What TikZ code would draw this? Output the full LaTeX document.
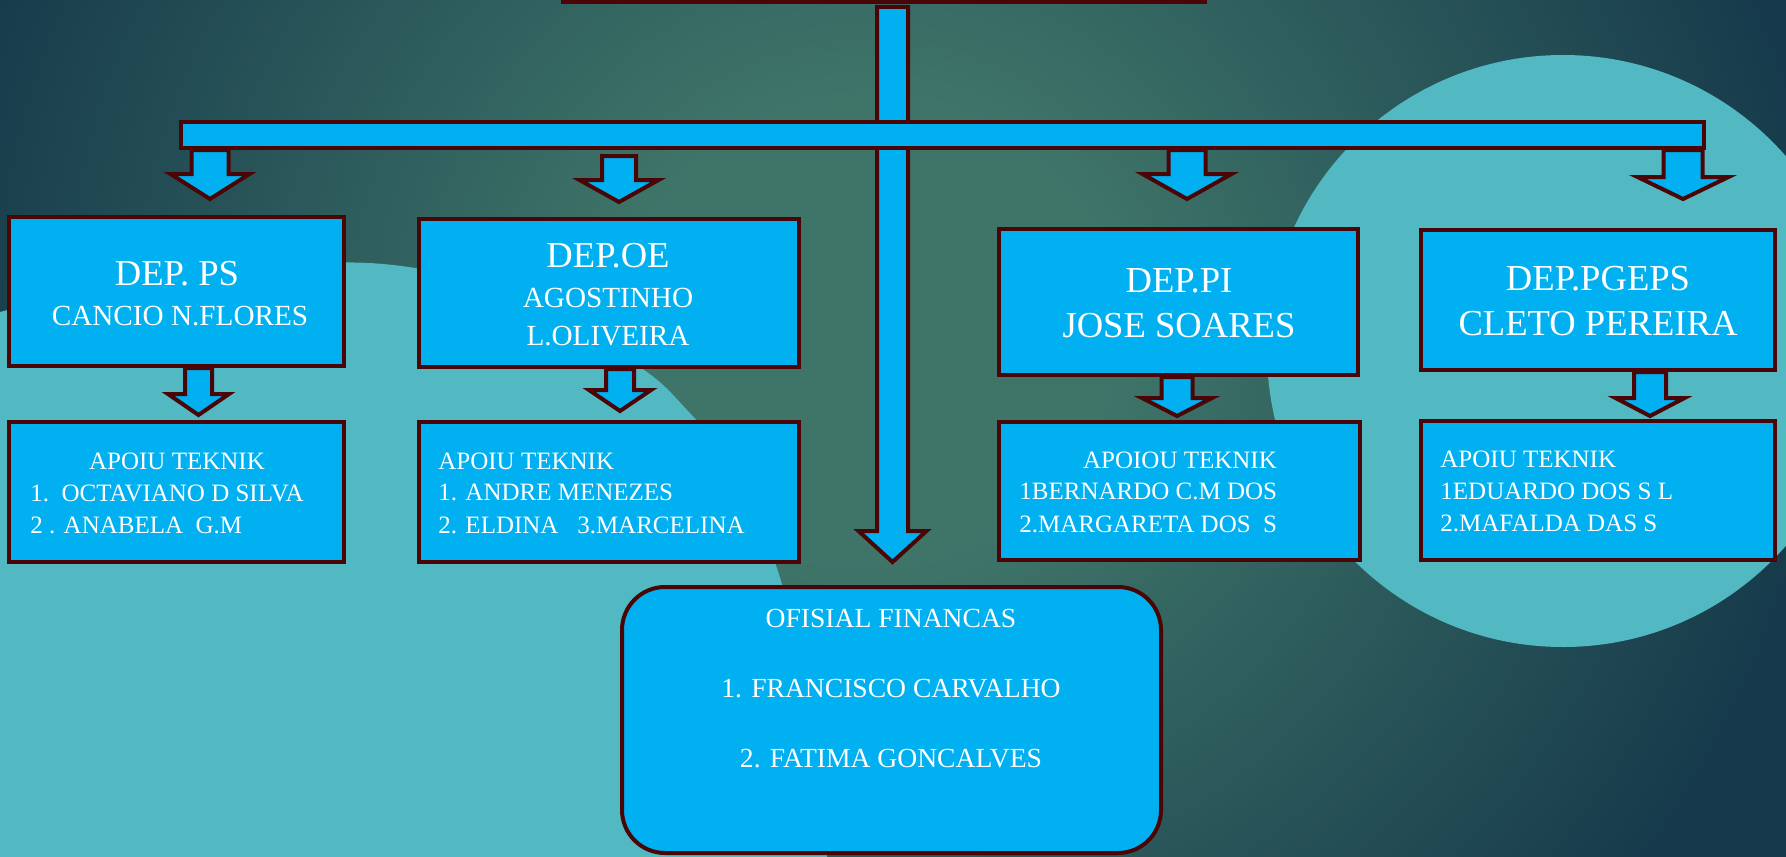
\documentclass[tikz,border=0pt]{standalone}
\usepackage{fontspec}
\setmainfont{Liberation Serif}
\usetikzlibrary{fit,calc}
\definecolor{boxblue}{HTML}{00B0F0}
\definecolor{brd}{HTML}{4A0606}
\definecolor{blob}{HTML}{52B8C2}
\definecolor{bgA}{HTML}{3F7569}
\definecolor{bgD}{HTML}{163A4B}
\pgfdeclareradialshading{bgrad}{\pgfpoint{0bp}{0bp}}{color(0bp)=(bgA); color(4.3bp)=(bgA); color(17.1bp)=(bgD); color(50bp)=(bgD)}
\newcommand\blockarrow[5]{%
  \draw[arrowbox] let \p1=(#1), \p2=(#2) in
    (\x1-#3*0.5pt,\y1) -- (\x1+#3*0.5pt,\y1) -- (\x1+#3*0.5pt,\y2+#5*0.5pt)
    -- (\x1+#4*0.5pt,\y2+#5*0.5pt) -- (\x2,\y2) -- (\x1-#4*0.5pt,\y2+#5*0.5pt)
    -- (\x1-#3*0.5pt,\y2+#5*0.5pt) -- cycle;}
\tikzset{
  box/.style={draw=brd, line width=2pt, fill=boxblue, inner sep=0pt, rectangle},
  arrowbox/.style={draw=brd, line width=2pt, fill=boxblue, line join=miter},
  txt/.style={text=white, inner sep=0pt, anchor=base},
  hd/.style={txt, font=\fontsize{18.3}{20}\selectfont},
  nm/.style={txt, font=\fontsize{14.6}{16}\selectfont},
  ls/.style={txt, font=\fontsize{12.5}{14}\selectfont},
  lsl/.style={ls, anchor=base west},
  of/.style={txt, font=\fontsize{13.8}{15}\selectfont}
}
\begin{document}
\begin{tikzpicture}[x=0.5pt, y=-0.5pt]
\useasboundingbox (0,0) rectangle (1786,856);
\clip (0,0) rectangle (1786,856);
% background
\fill[bgD] (0,0) rectangle (1786,856);
\shade[shading=bgrad] (870,330) ellipse [x radius=1400, y radius=1330];
\fill[blob] plot[smooth, tension=0.6] coordinates {(-20,322) (0,312) (150,277) (310,263) (415,268) (520,296) (637,365) (687,410) (740,475) (770,548) (792,620) (815,720) (830,900)} -- (-20,900) -- cycle;
\fill[blob] (1563,351) circle [radius=296];
% top box (cut off)
\node[box, fit={(563,-40) (1205,2)}] (top) {};
% stem arrow to finance office
\coordinate (stemS) at (892.5,7);
\coordinate (stemT) at (892.5,562);
\blockarrow{stemS}{stemT}{15.5}{34}{31}
% arrows from bar
\coordinate (a1s) at (210,150);  \coordinate (a1t) at (210,199);
\coordinate (a2s) at (619,156);  \coordinate (a2t) at (619,202);
\coordinate (a3s) at (1187,150); \coordinate (a3t) at (1187,199);
\coordinate (a4s) at (1683,150); \coordinate (a4t) at (1683,199);
\blockarrow{a1s}{a1t}{18.5}{39.5}{25}
\blockarrow{a2s}{a2t}{17}{39.5}{22}
\blockarrow{a3s}{a3t}{18.5}{44.5}{25}
\blockarrow{a4s}{a4t}{19.5}{45.5}{22}
% bar
\node[box, fit={(181,122) (1704,148)}] (bar) {};
% department boxes
\node[box, fit={(9,217) (344,366)}] (ps) {};
\node[box, fit={(419,219) (799,367)}] (oe) {};
\node[box, fit={(999,229) (1358,375)}] (pi) {};
\node[box, fit={(1421,230) (1775,370)}] (pgeps) {};
% arrows to support boxes
\coordinate (b1s) at (198.5,368); \coordinate (b1t) at (198.5,415);
\coordinate (b2s) at (620,369);   \coordinate (b2t) at (620,411);
\coordinate (b3s) at (1177,377);  \coordinate (b3t) at (1177,416);
\coordinate (b4s) at (1650,372);  \coordinate (b4t) at (1650,416);
\blockarrow{b1s}{b1t}{13.5}{30.5}{21}
\blockarrow{b2s}{b2t}{14}{31}{21}
\blockarrow{b3s}{b3t}{15.5}{35}{18}
\blockarrow{b4s}{b4t}{16}{34.5}{18}
% support boxes
\node[box, fit={(9,422) (344,562)}] (ap1) {};
\node[box, fit={(419,422) (799,562)}] (ap2) {};
\node[box, fit={(999,422) (1360,560)}] (ap3) {};
\node[box, fit={(1421,421) (1775,560)}] (ap4) {};
% finance office
\node[box, rounded corners=21.5pt, fit={(622,587) (1161,853)}] (fin) {};
% texts
\node[hd] (t1a) at (177,285) {DEP. PS};
\node[nm] (t1b) at (180,325) {CANCIO N.FLORES};
\node[hd] (t2a) at (608,267) {DEP.OE};
\node[nm] (t2b) at (608,307) {AGOSTINHO};
\node[nm] (t2c) at (608,345) {L.OLIVEIRA};
\node[hd] (t3a) at (1179,292) {DEP.PI};
\node[hd] (t3b) at (1179,337) {JOSE SOARES};
\node[hd] (t4a) at (1598,290) {DEP.PGEPS};
\node[hd] (t4b) at (1598,335) {CLETO PEREIRA};
\node[ls] (s1a) at (177,469) {APOIU TEKNIK};
\node[lsl] (s1b) at (30,501) {1.\ \ OCTAVIANO D SILVA};
\node[lsl] (s1c) at (30,533) {2 . ANABELA\ \ G.M};
\node[lsl] (s2a) at (438,469) {APOIU TEKNIK};
\node[lsl] (s2b) at (438,500) {1. ANDRE MENEZES};
\node[lsl] (s2c) at (438,533) {2. ELDINA\ \ \ 3.MARCELINA};
\node[ls] (s3a) at (1180,468) {APOIOU TEKNIK};
\node[lsl] (s3b) at (1019,499) {1BERNARDO C.M DOS};
\node[lsl] (s3c) at (1019,532) {2.MARGARETA DOS\ \ S};
\node[lsl] (s4a) at (1440,467) {APOIU TEKNIK};
\node[lsl] (s4b) at (1440,499) {1EDUARDO DOS S L};
\node[lsl] (s4c) at (1440,531) {2.MAFALDA DAS S};
\node[of] (f1) at (891,627) {OFISIAL FINANCAS};
\node[of] (f2) at (891,697) {1. FRANCISCO CARVALHO};
\node[of] (f3) at (891,767) {2. FATIMA GONCALVES};
\end{tikzpicture}
\end{document}
